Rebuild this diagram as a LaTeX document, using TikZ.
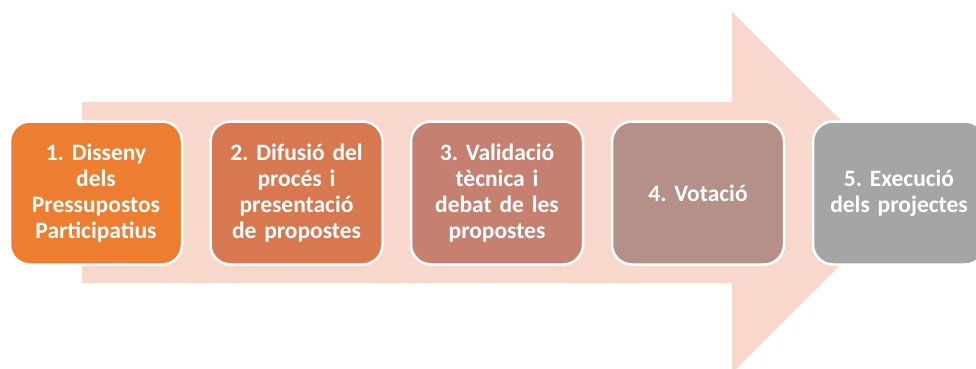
\documentclass[tikz,border=0pt]{standalone}
\usepackage{fontspec}
\setmainfont{Carlito}
\usepackage{tikz}
\usetikzlibrary{positioning}
\frenchspacing
\definecolor{fletxa}{HTML}{F8D7CC}
\definecolor{fase1}{HTML}{ED7D31}
\definecolor{fase2}{HTML}{D87851}
\definecolor{fase3}{HTML}{C68071}
\definecolor{fase4}{HTML}{B49089}
\definecolor{fase5}{HTML}{A5A5A5}
\tikzstyle{fase}=[
        draw=white,
        line width=2.5pt,
        rectangle,
        rounded corners=20pt,
        minimum width=172pt,
        minimum height=143pt,
        text width=164pt,
        align=center,
        text=white,
        font=\fontsize{23.5}{26}\selectfont\bfseries
]
\tikzstyle{fonsfletxa}=[fill=fletxa]

\begin{document}
\begin{tikzpicture}[x=1pt,y=-1pt]
\useasboundingbox (0,0) rectangle (976,369);
%Fletxa de fons
\fill[fonsfletxa] (82,102) -- (732,102) -- (732,12) -- (913,192.5)
  -- (732,373) -- (732,283) -- (82,283) -- cycle;
%Fases
\node[fase,fill=fase1] (disseny) at (96,193) {1. Disseny\\dels\\Pressupostos\\Participatius};
\node[fase,fill=fase2] (difusio) at (296.5,193) {2. Difusió del\\procés i\\presentació\\de propostes};
\node[fase,fill=fase3] (validacio) at (497,193) {3. Validació\\tècnica i\\debat de les\\propostes};
\node[fase,fill=fase4] (votacio) at (698,193) {4. Votació};
\node[fase,fill=fase5] (execucio) at (899,193) {5. Execució\\dels projectes};
\end{tikzpicture}
\end{document}
